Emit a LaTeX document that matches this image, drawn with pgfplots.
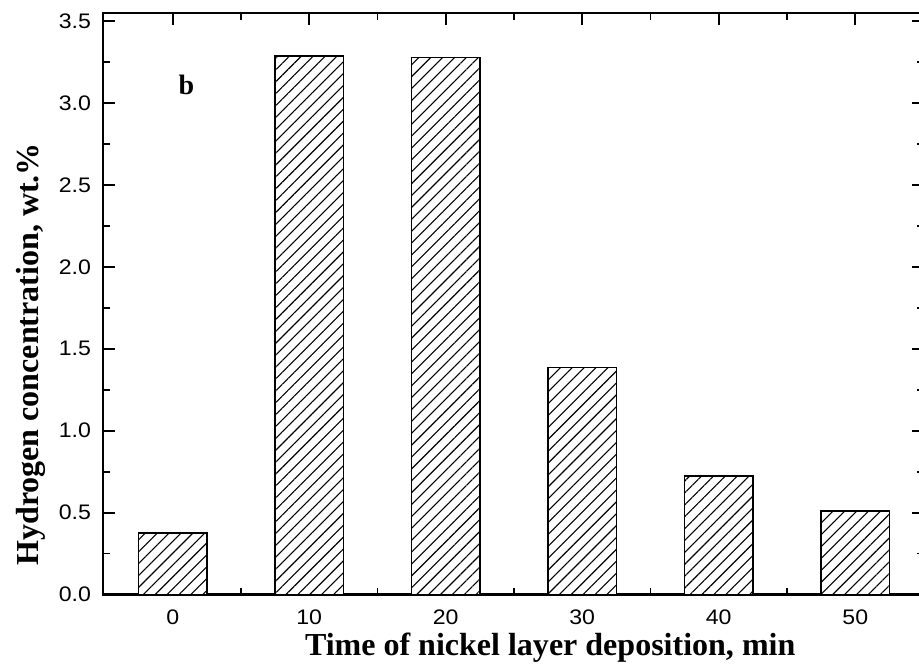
\documentclass[border=0pt]{standalone}
\usepackage{fontspec}
\setmainfont[FakeStretch=1.1]{Liberation Sans}
\newfontfamily\timesfont{Liberation Serif}
\usepackage{pgfplots}
\pgfplotsset{compat=1.18}
\usetikzlibrary{patterns.meta,calc}
\begin{document}
\begin{tikzpicture}
\begin{axis}[
  ybar, bar width=5, bar shift=0pt,
  scale only axis,
  width=410pt, height=290.6pt,
  xmin=-5.1, xmax=55, ymin=0, ymax=3.55,
  xtick={0,10,20,30,40,50},
  ytick={0,0.5,...,3.5},
  minor x tick num=1, minor y tick num=1,
  tick pos=both,
  tick align=inside, xtick align=inside, ytick align=inside,
  major tick length=6pt, minor tick length=3.5pt,
  every tick/.style={black, line width=0.9pt},
  axis line style={line width=1.1pt},
  /pgf/number format/assume math mode=true,
  /pgf/number format/fixed, /pgf/number format/fixed zerofill,
  /pgf/number format/precision=1,
  xticklabel={\pgfmathprintnumber[fixed,precision=0]{\tick}},
  tick label style={font=\fontsize{10.5}{12}\selectfont},
  xticklabel style={yshift=-4pt},
  yticklabel style={xshift=-2.5pt},
  xlabel={\timesfont\bfseries Time of nickel layer deposition, min},
  ylabel={\timesfont\bfseries Hydrogen concentration, wt.\%},
  label style={font=\fontsize{16}{18}\selectfont},
  xlabel style={at={(rel axis cs:0.545,0)}, anchor=base, yshift=-30.5pt},
  ylabel style={at={(rel axis cs:0,0.413)}, anchor=center, yshift=36pt},
]
\addplot[draw=black, line width=0.8pt, fill=white,
  postaction={pattern={Lines[angle=45,distance=4.2pt,line width=0.55pt]}}]
  coordinates {(0,0.377)(10,3.288)(20,3.278)(30,1.386)(40,0.723)(50,0.509)};
\node[font=\timesfont\bfseries\fontsize{14}{16}\selectfont] at (axis cs:1,3.11) {b};
\coordinate (sw) at (axis cs:-5.1,0);
\coordinate (ne) at (axis cs:54.67,3.55);
\end{axis}
\pgfresetboundingbox
\path[use as bounding box] ($(sw)+(-51.5pt,-36pt)$) rectangle ($(ne)+(0pt,6.5pt)$);
\end{tikzpicture}
\end{document}
